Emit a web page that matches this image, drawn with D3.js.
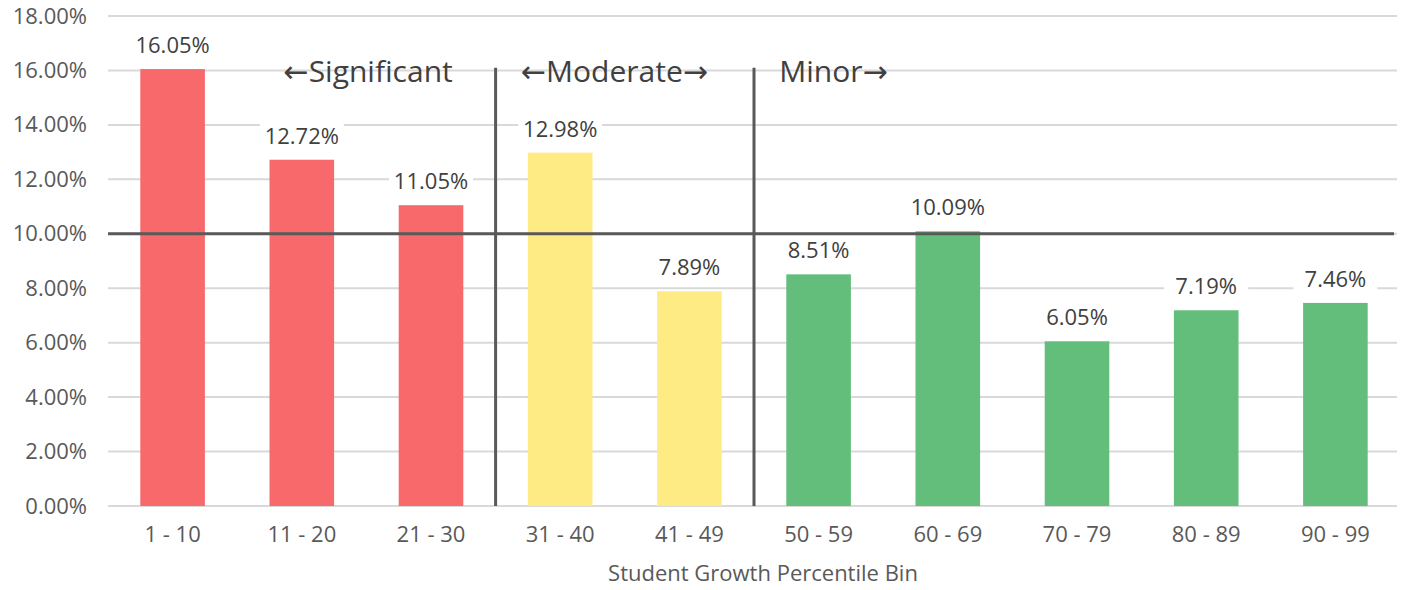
<!DOCTYPE html>
<meta charset="utf-8">
<style>
body {
  margin: 0;
  background: #fff;
  font-family: "Open Sans", "Liberation Sans", sans-serif;
}
.grid line {
  stroke: #d9d9d9;
  stroke-width: 2;
}
.tick text {
  fill: #595959;
  font-size: 22px;
  font-family: "Open Sans", sans-serif;
}
.val {
  fill: #404040;
  font-size: 22px;
  text-anchor: middle;
}
.note {
  fill: #404040;
  font-size: 30px;
}
.arrow {
  font-family: "DejaVu Sans", sans-serif;
}
.divider {
  stroke: #595959;
  stroke-width: 3;
}
</style>
<body>
<svg width="1410" height="590"></svg>
<script src="https://cdn.jsdelivr.net/npm/d3@7"></script>
<script>
var bins = ["1 - 10", "11 - 20", "21 - 30", "31 - 40", "41 - 49", "50 - 59", "60 - 69", "70 - 79", "80 - 89", "90 - 99"];
var shares = [16.05, 12.72, 11.05, 12.98, 7.89, 8.51, 10.09, 6.05, 7.19, 7.46];
var groups = ["Significant", "Significant", "Significant", "Moderate", "Moderate", "Minor", "Minor", "Minor", "Minor", "Minor"];
var yTicks = [0, 2, 4, 6, 8, 10, 12, 14, 16, 18];
var notes = [
  {left: true, text: "Significant", right: false, at: "11 - 20", dx: 14},
  {left: true, text: "Moderate", right: true, at: "31 - 40", dx: -7},
  {left: false, text: "Minor", right: true, at: "50 - 59", dx: -7}
];
var threshold = 10;

var colors = {Significant: "#f8696b", Moderate: "#ffeb84", Minor: "#63be7b"};

var svg = d3.select("svg"),
    margin = {top: 16, right: 10, bottom: 84, left: 108},
    width = +svg.attr("width") - margin.left - margin.right,
    height = +svg.attr("height") - margin.top - margin.bottom;

var x = d3.scaleBand().domain(bins).range([0, width]).paddingInner(0.5).paddingOuter(0.25),
    y = d3.scaleLinear().domain([0, 18]).range([height, 0]);

var g = svg.append("g")
    .attr("transform", "translate(" + margin.left + "," + margin.top + ")");

// gridlines
g.append("g")
    .attr("class", "grid")
    .selectAll("line")
    .data(yTicks)
    .enter().append("line")
      .attr("x1", 0)
      .attr("x2", width - 3)
      .attr("y1", function(d) { return y(d); })
      .attr("y2", function(d) { return y(d); });

// y axis labels
var yAxis = g.append("g")
    .call(d3.axisLeft(y).tickValues(yTicks).tickSize(0).tickPadding(21)
      .tickFormat(function(d) { return d.toFixed(2) + "%"; }));
yAxis.select(".domain").remove();

// x axis labels
var xAxis = g.append("g")
    .attr("transform", "translate(0," + height + ")")
    .call(d3.axisBottom(x).tickSize(0).tickPadding(20));
xAxis.select(".domain").remove();

// bars
g.selectAll(".bar")
  .data(bins)
  .enter().append("rect")
    .attr("class", "bar")
    .attr("x", function(d) { return x(d); })
    .attr("y", function(d, i) { return y(shares[i]); })
    .attr("width", x.bandwidth())
    .attr("height", function(d, i) { return height - y(shares[i]); })
    .attr("fill", function(d, i) { return colors[groups[i]]; });

// threshold line
g.append("line")
    .attr("class", "divider")
    .attr("x1", 0)
    .attr("x2", width - 6)
    .attr("y1", y(threshold))
    .attr("y2", y(threshold));

// group dividers, between the last bar of a group and the next
var step = x.step();
groups.forEach(function(gr, i) {
  if (i > 0 && groups[i - 1] !== gr) {
    var xm = x(bins[i]) - (step - x.bandwidth()) / 2;
    g.append("line")
        .attr("class", "divider")
        .attr("x1", xm).attr("x2", xm)
        .attr("y1", y(16.1)).attr("y2", y(0));
  }
});

// value labels with white backing
var labels = g.selectAll(".lab")
  .data(bins)
  .enter().append("g")
    .attr("class", "lab")
    .attr("transform", function(d, i) {
      return "translate(" + (x(d) + x.bandwidth() / 2) + "," + (y(shares[i]) - 16) + ")";
    });
labels.append("rect")
    .attr("x", -42).attr("y", -20)
    .attr("width", 84).attr("height", 26)
    .attr("fill", "#fff");
labels.append("text")
    .attr("class", "val")
    .text(function(d, i) { return shares[i].toFixed(2) + "%"; });

// group notes
notes.forEach(function(n) {
  var t = g.append("text")
      .attr("class", "note")
      .attr("x", x(n.at) + n.dx)
      .attr("y", y(16) + 12);
  if (n.left) t.append("tspan").attr("class", "arrow").text("\u2190");
  t.append("tspan").text(n.text);
  if (n.right) t.append("tspan").attr("class", "arrow").text("\u2192");
});

// x axis title
svg.append("text")
    .attr("x", margin.left + width / 2 + 9)
    .attr("y", 581)
    .attr("text-anchor", "middle")
    .style("font-size", "22px")
    .style("fill", "#595959")
    .text("Student Growth Percentile Bin");
</script>
</body>
